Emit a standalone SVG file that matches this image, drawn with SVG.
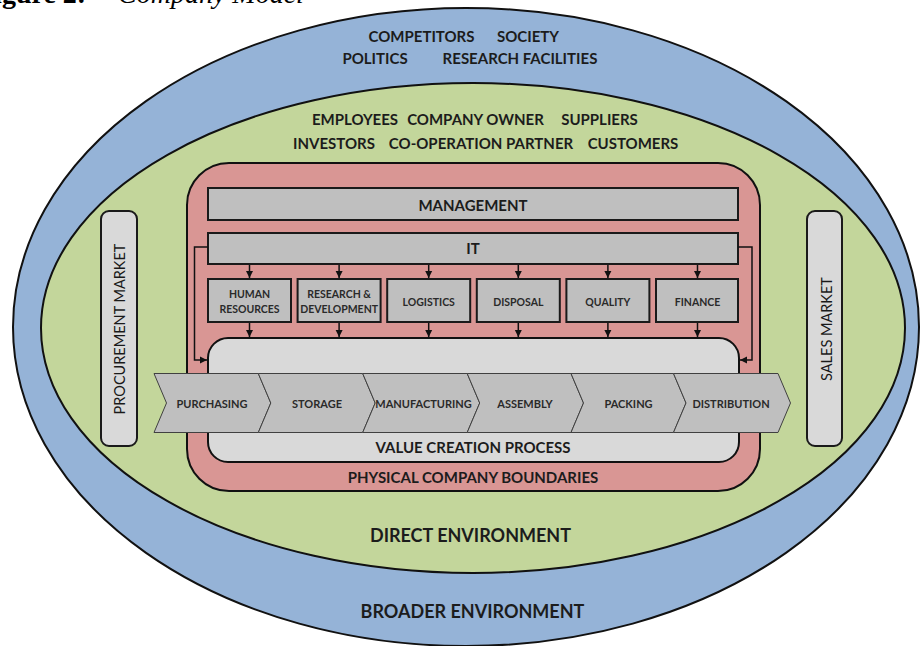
<svg xmlns="http://www.w3.org/2000/svg" width="921" height="646" viewBox="0 0 921 646">
<style>
text{font-family:Lato,"Open Sans","Liberation Sans",sans-serif;font-weight:700;fill:#1c1c1c;text-anchor:middle}
.env{font-size:15px}
.big{font-size:18px}
.bar{fill:#bfbfbf;stroke:#1a1a1a;stroke-width:2}
.fn{fill:#bfbfbf;stroke:#1a1a1a;stroke-width:2}
.fnt{font-size:10.5px;fill:#2a2a2a}
.chev{fill:#bfbfbf;stroke:#404040;stroke-width:1}
.cht{font-size:11px;fill:#2a2a2a}
.mkt{fill:#d9d9d9;stroke:#1a1a1a;stroke-width:2}
.mktt{font-weight:400;font-size:14.5px;fill:#1a1a1a}
.con{fill:none;stroke:#111;stroke-width:1.5}
.cap{font-family:"Liberation Serif",serif;font-size:28px;text-anchor:start;fill:#000}
</style>
<defs>
<marker id="ah" markerUnits="userSpaceOnUse" markerWidth="8" markerHeight="8" refX="7" refY="4" orient="auto">
<path d="M0,0.5 L7,4 L0,7.5 Z" fill="#111"/>
</marker>
</defs>
<rect width="921" height="646" fill="#fff"/>
<text class="cap" y="3"><tspan x="-23" font-weight="700">Figure 2:</tspan><tspan x="118" font-weight="400" font-style="italic">Company Model</tspan></text>

<g id="broader-environment">
<ellipse cx="466" cy="327" rx="453" ry="319" fill="#95b3d7" stroke="#111" stroke-width="2"/>
<text class="env" x="421.5" y="42">COMPETITORS</text>
<text class="env" x="528" y="42">SOCIETY</text>
<text class="env" x="375" y="64">POLITICS</text>
<text class="env" x="520" y="64">RESEARCH FACILITIES</text>
<text class="big" x="472.5" y="618">BROADER ENVIRONMENT</text>
</g>

<g id="direct-environment">
<ellipse cx="473" cy="328" rx="432" ry="245" fill="#c3d69b" stroke="#111" stroke-width="2"/>
<text class="env" x="355" y="125">EMPLOYEES</text>
<text class="env" x="475.5" y="125">COMPANY OWNER</text>
<text class="env" x="599.5" y="125">SUPPLIERS</text>
<text class="env" x="334" y="149">INVESTORS</text>
<text class="env" x="481" y="149">CO-OPERATION PARTNER</text>
<text class="env" x="633" y="149">CUSTOMERS</text>
<text class="big" x="470.5" y="542">DIRECT ENVIRONMENT</text>
</g>

<g id="procurement-market">
<rect class="mkt" x="101" y="211" width="36" height="235" rx="8"/>
<text class="mktt" transform="translate(124.5,329) rotate(-90)">PROCUREMENT MARKET</text>
</g>
<g id="sales-market">
<rect class="mkt" x="807" y="211" width="35" height="235" rx="8"/>
<text class="mktt" transform="translate(831.5,329) rotate(-90)">SALES MARKET</text>
</g>

<g id="physical-company-boundaries">
<rect x="187" y="163" width="573" height="328" rx="42" fill="#d99694" stroke="#111" stroke-width="2"/>
<text class="env" x="473" y="482.5">PHYSICAL COMPANY BOUNDARIES</text>
</g>

<g id="management">
<rect class="bar" x="208" y="188" width="530" height="32"/>
<text class="env" x="473" y="210.5">MANAGEMENT</text>
</g>
<g id="it">
<rect class="bar" x="208" y="233" width="530" height="31"/>
<text class="env" x="473" y="254">IT</text>
</g>

<g id="human-resources">
<rect class="fn" x="208" y="279" width="83" height="43"/>
<text class="fnt" x="249.5" y="297.5">HUMAN</text>
<text class="fnt" x="249.5" y="312.5">RESOURCES</text>
</g>
<g id="research-development">
<rect class="fn" x="297.6" y="279" width="83" height="43"/>
<text class="fnt" x="339.1" y="297.5">RESEARCH &amp;</text>
<text class="fnt" x="339.1" y="312.5">DEVELOPMENT</text>
</g>
<g id="logistics">
<rect class="fn" x="387.2" y="279" width="83" height="43"/>
<text class="fnt" x="428.7" y="305.5">LOGISTICS</text>
</g>
<g id="disposal">
<rect class="fn" x="476.8" y="279" width="83" height="43"/>
<text class="fnt" x="518.3" y="305.5">DISPOSAL</text>
</g>
<g id="quality">
<rect class="fn" x="566.4" y="279" width="83" height="43"/>
<text class="fnt" x="607.9" y="305.5">QUALITY</text>
</g>
<g id="finance">
<rect class="fn" x="656" y="279" width="82" height="43"/>
<text class="fnt" x="697.5" y="305.5">FINANCE</text>
</g>

<g id="value-creation-process">
<rect x="208" y="338" width="531" height="124" rx="20" fill="#d9d9d9" stroke="#111" stroke-width="2"/>
<text class="env" x="473" y="452.5">VALUE CREATION PROCESS</text>
</g>

<g id="connectors">
<path class="con" d="M249.5,265 V278" marker-end="url(#ah)"/>
<path class="con" d="M339.1,265 V278" marker-end="url(#ah)"/>
<path class="con" d="M428.7,265 V278" marker-end="url(#ah)"/>
<path class="con" d="M518.3,265 V278" marker-end="url(#ah)"/>
<path class="con" d="M607.9,265 V278" marker-end="url(#ah)"/>
<path class="con" d="M697.5,265 V278" marker-end="url(#ah)"/>
<path class="con" d="M249.5,323 V337" marker-end="url(#ah)"/>
<path class="con" d="M339.1,323 V337" marker-end="url(#ah)"/>
<path class="con" d="M428.7,323 V337" marker-end="url(#ah)"/>
<path class="con" d="M518.3,323 V337" marker-end="url(#ah)"/>
<path class="con" d="M607.9,323 V337" marker-end="url(#ah)"/>
<path class="con" d="M697.5,323 V337" marker-end="url(#ah)"/>
<path class="con" d="M208,247 H194.5 V360 H207" marker-end="url(#ah)"/>
<path class="con" d="M738,247 H752 V360 H740" marker-end="url(#ah)"/>
</g>

<g id="purchasing">
<path class="chev" d="M154,373.5 H258.3 L270.8,403 L258.3,432.5 H154 L166.5,403 Z"/>
<text class="cht" x="212" y="407.5">PURCHASING</text>
</g>
<g id="storage">
<path class="chev" d="M258.3,373.5 H362.7 L375.2,403 L362.7,432.5 H258.3 L270.8,403 Z"/>
<text class="cht" x="317" y="407.5">STORAGE</text>
</g>
<g id="manufacturing">
<path class="chev" d="M362.7,373.5 H467.2 L479.7,403 L467.2,432.5 H362.7 L375.2,403 Z"/>
<text class="cht" x="423.5" y="407.5">MANUFACTURING</text>
</g>
<g id="assembly">
<path class="chev" d="M467.2,373.5 H571 L583.5,403 L571,432.5 H467.2 L479.7,403 Z"/>
<text class="cht" x="525" y="407.5">ASSEMBLY</text>
</g>
<g id="packing">
<path class="chev" d="M571,373.5 H673.5 L686,403 L673.5,432.5 H571 L583.5,403 Z"/>
<text class="cht" x="628.5" y="407.5">PACKING</text>
</g>
<g id="distribution">
<path class="chev" d="M673.5,373.5 H778 L790.5,403 L778,432.5 H673.5 L686,403 Z"/>
<text class="cht" x="731" y="407.5">DISTRIBUTION</text>
</g>
</svg>
